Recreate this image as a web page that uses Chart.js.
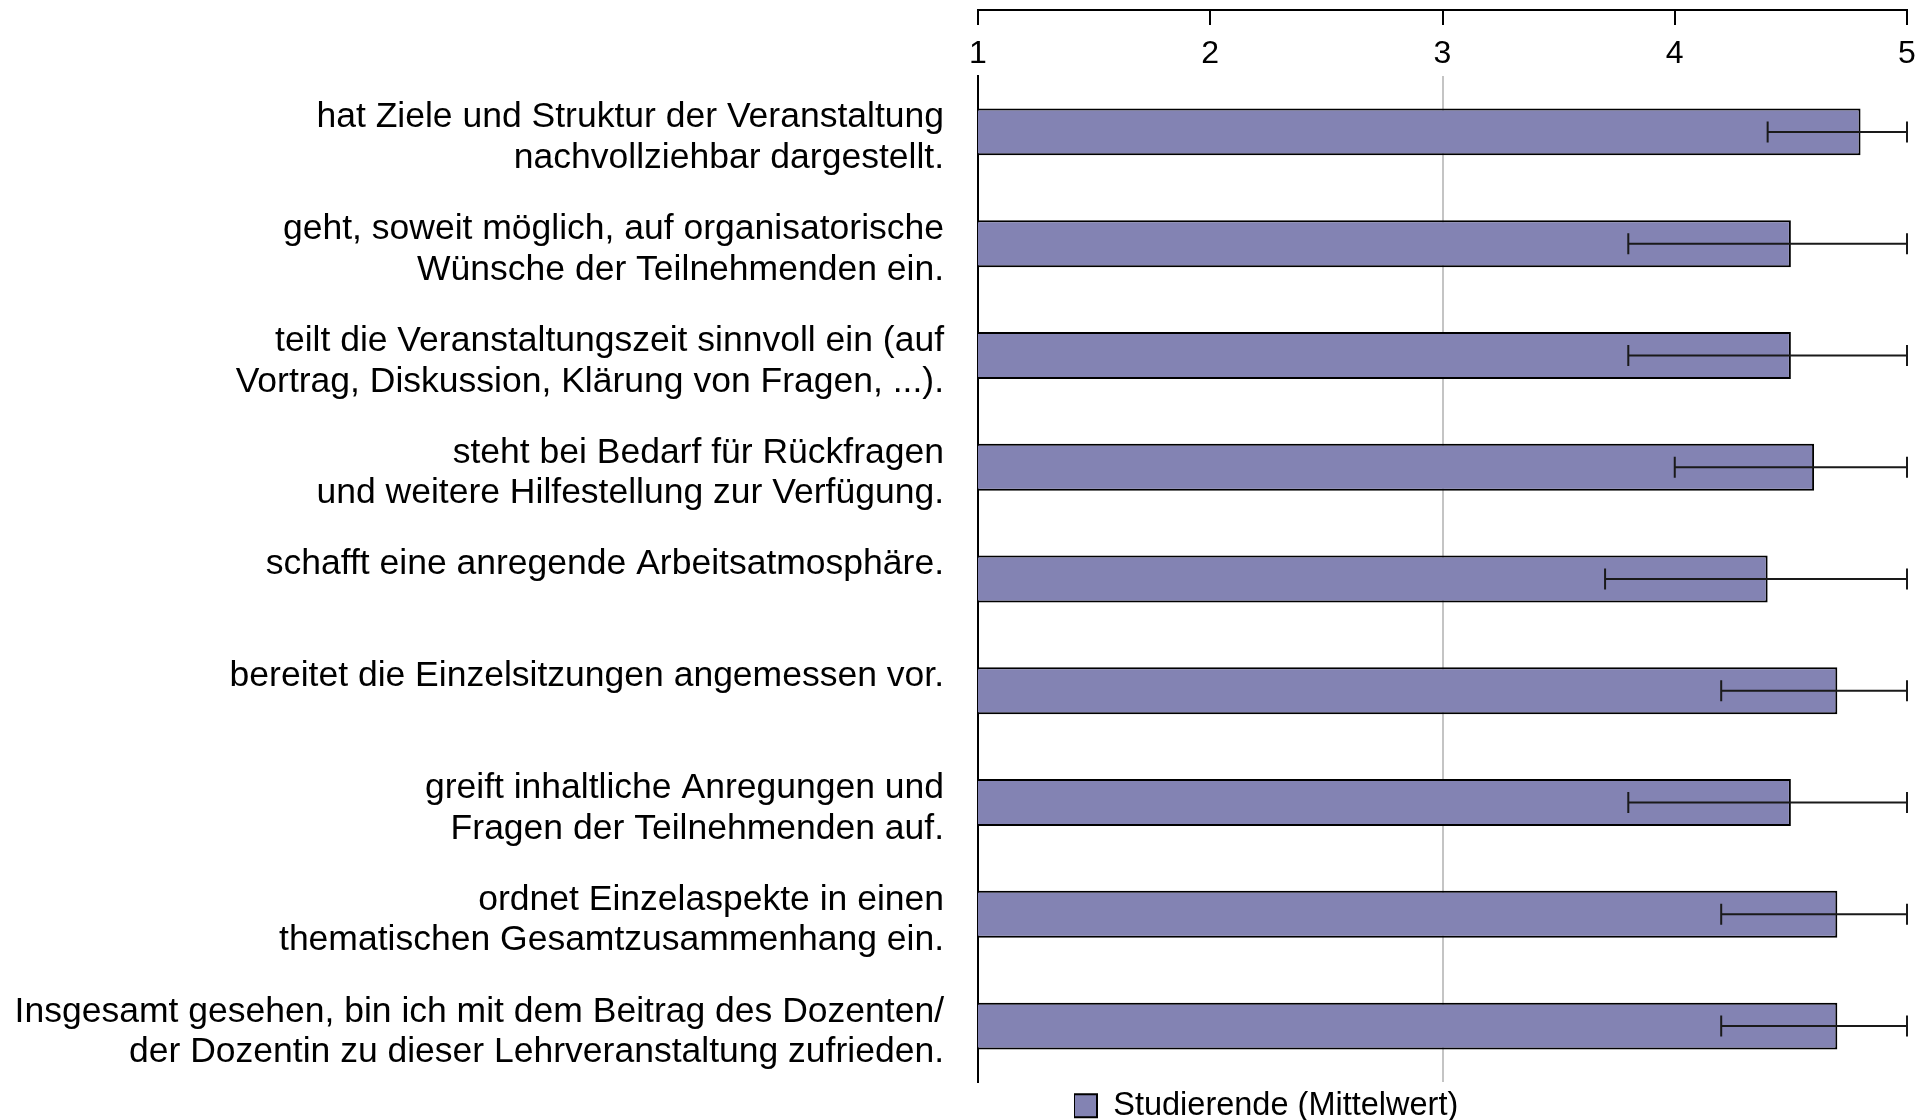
<!DOCTYPE html>
<html>
<head>
<meta charset="utf-8">
<script src="https://cdn.jsdelivr.net/npm/chart.js@4.4.1/dist/chart.umd.min.js"></script>
<style>
  html, body { margin: 0; padding: 0; background: #ffffff; }
  #wrap { width: 1932px; height: 1120px; position: relative; }
</style>
</head>
<body>
<div id="wrap"><canvas id="c"></canvas></div>
<script>
const categories = [
  ["hat Ziele und Struktur der Veranstaltung", "nachvollziehbar dargestellt."],
  ["geht, soweit möglich, auf organisatorische", "Wünsche der Teilnehmenden ein."],
  ["teilt die Veranstaltungszeit sinnvoll ein (auf", "Vortrag, Diskussion, Klärung von Fragen, ...)."],
  ["steht bei Bedarf für Rückfragen", "und weitere Hilfestellung zur Verfügung."],
  ["schafft eine anregende Arbeitsatmosphäre.", ""],
  ["bereitet die Einzelsitzungen angemessen vor.", ""],
  ["greift inhaltliche Anregungen und", "Fragen der Teilnehmenden auf."],
  ["ordnet Einzelaspekte in einen", "thematischen Gesamtzusammenhang ein."],
  ["Insgesamt gesehen, bin ich mit dem Beitrag des Dozenten/", "der Dozentin zu dieser Lehrveranstaltung zufrieden."]
];
const meanValues = [4.8, 4.5, 4.5, 4.6, 4.4, 4.7, 4.5, 4.7, 4.7];
const errLow = [4.4, 3.8, 3.8, 4.0, 3.7, 4.2, 3.8, 4.2, 4.2];
const errHigh = [5, 5, 5, 5, 5, 5, 5, 5, 5];
const xTickValues = [1, 2, 3, 4, 5];
const seriesLabel = "Studierende (Mittelwert)";

const FONT = "'Liberation Sans', Arial, Helvetica, sans-serif";
const BAR_COLOR = "#8383b3";

const errorBarPlugin = {
  id: "errorBars",
  afterDatasetsDraw(chart) {
    const meta = chart.getDatasetMeta(0);
    const xs = chart.scales.x;
    const ctx = chart.ctx;
    ctx.save();
    ctx.strokeStyle = "#1a1a1a";
    ctx.lineWidth = 2;
    meta.data.forEach((bar, i) => {
      const y = bar.y;
      const x1 = xs.getPixelForValue(errLow[i]);
      const x2 = xs.getPixelForValue(errHigh[i]);
      const h = 10.5;
      ctx.beginPath();
      ctx.moveTo(x1, y); ctx.lineTo(x2, y);
      ctx.moveTo(x1, y - h); ctx.lineTo(x1, y + h);
      ctx.moveTo(x2, y - h); ctx.lineTo(x2, y + h);
      ctx.stroke();
    });
    ctx.restore();
  }
};

const topAxisPlugin = {
  id: "topAxisLine",
  afterDraw(chart) {
    const xs = chart.scales.x;
    const ctx = chart.ctx;
    const yLine = 10;
    const yTick = 25;
    ctx.save();
    ctx.strokeStyle = "#000000";
    ctx.lineWidth = 2;
    ctx.beginPath();
    const l = xs.getPixelForValue(xTickValues[0]);
    const r = xs.getPixelForValue(xTickValues[xTickValues.length - 1]);
    ctx.moveTo(l - 1, yLine); ctx.lineTo(r + 1, yLine);
    xTickValues.forEach(v => {
      const px = Math.round(xs.getPixelForValue(v));
      ctx.moveTo(px, yLine); ctx.lineTo(px, yTick);
    });
    ctx.stroke();
    ctx.restore();
  }
};

const legendPlacePlugin = {
  id: "legendPlace",
  afterLayout(chart) {
    const lg = chart.legend;
    if (!lg) return;
    const w = lg.width;
    lg.left = 1074;
    lg.right = 1074 + w;
    lg.top = 1089.5;
    lg.bottom = lg.top + lg.height;
  }
};

new Chart(document.getElementById("c"), {
  type: "bar",
  data: {
    labels: categories,
    datasets: [{
      label: seriesLabel,
      data: meanValues,
      backgroundColor: BAR_COLOR,
      borderColor: "#000000",
      borderWidth: 2,
      borderSkipped: false,
      categoryPercentage: 1.0,
      barPercentage: 0.42
    }]
  },
  options: {
    indexAxis: "y",
    responsive: true,
    maintainAspectRatio: false,
    animation: false,
    layout: { padding: { left: 0, right: 25, top: 0, bottom: 0 } },
    scales: {
      x: {
        position: "top",
        min: 1,
        max: 5,
        afterFit(scale) { scale.height = 76; scale.paddingLeft = 0; scale.paddingRight = 0; },
        afterBuildTicks(scale) { scale.ticks = xTickValues.map(v => ({ value: v })); },
        ticks: {
          color: "#000000",
          padding: 2.5,
          font: { family: FONT, size: 32 },
          callback: (v) => String(v)
        },
        grid: {
          drawTicks: false,
          lineWidth: 2,
          color: (ctx) => (ctx.tick && ctx.tick.value === 3) ? "#c4c4c4" : "rgba(0,0,0,0)"
        },
        border: { display: false }
      },
      y: {
        afterFit(scale) {
          scale.width = 978;
          scale.paddingTop = 0;
          scale.paddingBottom = 0;
        },
        ticks: {
          color: "#000000",
          padding: 34,
          labelOffset: 6,
          autoSkip: false,
          font: { family: FONT, size: 35.5, lineHeight: 1.146 }
        },
        grid: { display: false, drawTicks: false },
        border: { display: true, color: "#000000", width: 2 }
      }
    },
    plugins: {
      legend: {
        position: "bottom",
        align: "start",
        maxHeight: 38,
        labels: {
          color: "#000000",
          boxWidth: 23,
          boxHeight: 23,
          padding: 0,
          font: { family: FONT, size: 32.5 }
        }
      },
      tooltip: { enabled: false },
      title: { display: false }
    }
  },
  plugins: [errorBarPlugin, topAxisPlugin, legendPlacePlugin]
});
</script>
</body>
</html>
